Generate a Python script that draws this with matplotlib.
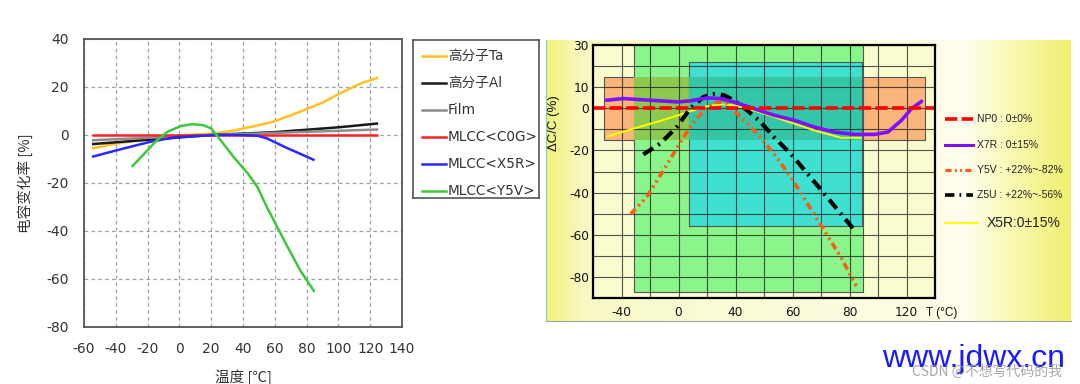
import numpy as np
import matplotlib
matplotlib.use("Agg")
import matplotlib.pyplot as plt
from matplotlib.patches import Rectangle
from matplotlib.lines import Line2D
from matplotlib.colors import LinearSegmentedColormap

plt.rcParams['font.family'] = ['Noto Sans CJK SC', 'DejaVu Sans']
plt.rcParams['axes.unicode_minus'] = False

# ---------------- Left chart data ----------------
left_names = ['高分子Ta', '高分子Al', 'Film', 'MLCC<C0G>', 'MLCC<X5R>', 'MLCC<Y5V>']
left_colors = ['#ffc020', '#1a1a1a', '#8c8c8c', '#ff2020', '#2828ff', '#3cc83c']

ta_t = [-55, -39, -18, 3, 22, 34, 47, 59, 76, 89, 101, 114, 125]
ta_v = [-5.6, -3.5, -1.4, 0.0, 0.6, 1.8, 3.7, 5.5, 9.7, 13.2, 17.3, 21.5, 23.9]
al_t = [-55, 20, 60, 100, 125]
al_v = [-3.8, 0.0, 1.2, 3.2, 4.8]
film_t = [-55, 20, 125]
film_v = [-2.2, 0.0, 2.3]
c0g_t = [-55, 125]
c0g_v = [0.0, 0.0]
x5r_t = [-55, -39, -29, -18, -3.5, 22, 38, 49, 55, 66, 85]
x5r_v = [-9.1, -6.3, -4.6, -2.8, -1.0, 0.0, 0.0, -0.3, -1.4, -4.9, -10.5]
y5v_t = [-30, -22, -14, -7.6, 0.7, 8, 15, 20, 24, 34, 43, 49, 55, 61.5, 68, 76, 85]
y5v_v = [-13.3, -7.7, -2.1, 1.3, 3.7, 4.5, 4.1, 2.7, -0.5, -9.1, -16.0, -21.6, -30.0, -38.3, -46.6, -56.4, -65.4]
left_series = [(ta_t, ta_v), (al_t, al_v), (film_t, film_v), (c0g_t, c0g_v), (x5r_t, x5r_v), (y5v_t, y5v_v)]
left_xticks = [-60, -40, -20, 0, 20, 40, 60, 80, 100, 120, 140]
left_yticks = [-80, -60, -40, -20, 0, 20, 40]

# ---------------- Right chart data ----------------
# x coordinate: position on the chart's own (irregular) temperature axis
r_xtick_pos = [-40, 0, 40, 80, 120, 160]
r_xtick_lab = ['-40', '0', '40', '60', '80', '120']
r_ytick_pos = [30, 10, 0, -20, -40, -60, -80]

box_names = ['X7R', 'Y5V', 'Z5U']
box_tmin = [-52.5, -31.0, 7.5]
box_tmax = [173.0, 129.4, 128.7]
box_top = [15, 30, 22]
box_bot = [-15, -87, -56]

np0_t = [-60, 180]
np0_v = [0, 0]
x7r_t = [-50.6, -38.8, -20, 0, 8.2, 20, 29.4, 38.8, 52.9, 67, 81.2, 95.3, 109.4, 123.5, 137.6, 147, 156.5, 163.5, 170.6]
x7r_v = [3.8, 4.6, 3.8, 3.0, 3.5, 4.9, 4.6, 3.0, -0.2, -3.3, -5.7, -8.9, -11.3, -12.4, -12.4, -11.3, -5.7, -0.2, 3.3]
x5rr_t = [-49.4, -31.8, -15.3, 0, 10.6, 20, 29.4, 38.8, 52.9, 67, 81.2, 95.3, 114.1, 128.2]
x5rr_v = [-13.3, -9.7, -6.5, -3.3, -1.0, 0.95, 1.9, 1.4, -1.0, -4.1, -7.3, -10.5, -14.0, -14.0]
y5vr_t = [-33.6, -22.4, -10.6, 0, 8.2, 17.6, 24.7, 29.4, 34.1, 43.5, 55.3, 67, 78.8, 90.6, 102.4, 114.1, 124.7]
y5vr_v = [-50.2, -42.2, -29.5, -17.6, -8.9, -1.0, 2.5, 3.0, 2.2, -4.1, -12.1, -21.6, -32.7, -45.4, -58.1, -70.8, -84.3]
z5u_t = [-24.7, -12.9, -1.2, 8.2, 17.6, 24.7, 31.8, 38.8, 48.2, 57.6, 67, 78.8, 90.6, 102.4, 114.1, 123.5]
z5u_v = [-21.9, -16.8, -8.9, -0.2, 5.4, 6.7, 6.2, 3.8, -1.0, -6.5, -13.7, -21.6, -31.1, -40.6, -50.2, -57.8]
right_labels = ['NP0 : 0±0%', 'X7R : 0±15%', 'Y5V : +22%~-82%', 'Z5U : +22%~-56%', 'X5R:0±15%']

W, H = 1080, 384
fig = plt.figure(figsize=(W / 100, H / 100), dpi=100)


def fbox(x0, y0, x1, y1):
    return [x0 / W, 1 - y1 / H, (x1 - x0) / W, (y1 - y0) / H]


# ================= LEFT CHART =================
ax = fig.add_axes(fbox(84, 39, 402, 327))
for (t, v), c in zip(left_series, left_colors):
    ax.plot(t, v, color=c, lw=1.8, solid_capstyle='butt', zorder=3)
ax.set_xlim(-60, 140)
ax.set_ylim(-80, 40)
ax.set_xticks(left_xticks)
ax.set_yticks(left_yticks)
ax.grid(True, color='#a0a0a0', lw=0.9, linestyle=(0, (3, 2.5)))
ax.tick_params(length=0, labelsize=10, labelcolor='#333333', pad=11)
for lab in ax.get_xticklabels() + ax.get_yticklabels():
    lab.set_family('DejaVu Sans')
for s in ax.spines.values():
    s.set_color('#555555')
    s.set_linewidth(1.3)
fig.text(25 / W, 1 - 183 / H, '电容变化率 [%]', rotation=90, ha='center', va='center',
         fontsize=10.5, color='#333333')
fig.text(243 / W, 1 - 369 / H, '温度 [℃]', ha='center', va='top', fontsize=10.5, color='#333333')

# left legend box
axl = fig.add_axes(fbox(413, 40, 539, 198))
axl.set_xlim(413, 539)
axl.set_ylim(198, 40)
axl.set_xticks([])
axl.set_yticks([])
for s in axl.spines.values():
    s.set_color('#555555')
    s.set_linewidth(1.2)
leg_y = [56, 83, 110, 137, 164, 191]
for yy, name, c in zip(leg_y, left_names, left_colors):
    axl.add_line(Line2D([422, 446], [yy, yy], color=c, lw=1.8))
    axl.text(448, yy, name, va='center', ha='left', fontsize=9.8, color='#333333',
             family=['DejaVu Sans', 'Noto Sans CJK SC'])

# ================= RIGHT CHART =================
# background gradient panel
axbg = fig.add_axes(fbox(546, 40, 1071, 321))
cmap = LinearSegmentedColormap.from_list('bg', [
    (0.0, '#f2f27e'), (0.07, '#f8f8c2'), (0.2, '#fafad0'), (0.75, '#fdfde6'),
    (0.8, '#fefeee'), (0.88, '#f9f9b8'), (1.0, '#f0f070')])
axbg.imshow(np.linspace(0, 1, 256)[None, :], aspect='auto', cmap=cmap, extent=[0, 1, 0, 1])
axbg.set_xticks([])
axbg.set_yticks([])
for k, s in axbg.spines.items():
    s.set_visible(False)
axbg.spines['bottom'].set_visible(True)
axbg.spines['bottom'].set_color('#a0a0a0')
axbg.spines['left'].set_visible(True)
axbg.spines['left'].set_color('#7fd4c0')

ax2 = fig.add_axes(fbox(593, 45, 935, 298))
ax2.set_facecolor('#fbfbd0')
ax2.set_xlim(-60, 180)
ax2.set_ylim(-90, 30)

box_colors = ['#f9b57a', '#8af58a', '#3fe0d0']
for i in range(3):
    ax2.add_patch(Rectangle((box_tmin[i], box_bot[i]), box_tmax[i] - box_tmin[i],
                            box_top[i] - box_bot[i], facecolor=box_colors[i],
                            edgecolor='#555555', lw=0.8, zorder=1 + i * 0.2, clip_on=False))
    if i == 1:
        # orange ∩ green
        x0 = max(box_tmin[0], box_tmin[1]); x1 = min(box_tmax[0], box_tmax[1])
        y0 = max(box_bot[0], box_bot[1]); y1 = min(box_top[0], box_top[1])
        ax2.add_patch(Rectangle((x0, y0), x1 - x0, y1 - y0, facecolor='#8dc94f',
                                edgecolor='none', zorder=1.3))
    if i == 2:
        x0 = max(box_tmin[0], box_tmin[2]); x1 = min(box_tmax[0], box_tmax[2])
        y0 = max(box_bot[0], box_bot[2]); y1 = min(box_top[0], box_top[2])
        ax2.add_patch(Rectangle((x0, y0), x1 - x0, y1 - y0, facecolor='#35c6a8',
                                edgecolor='none', zorder=1.5))

for gx in np.arange(-60, 181, 20):
    ax2.axvline(gx, color='#1a1a1a', lw=0.8, alpha=0.75, zorder=2)
for gy in np.arange(-90, 31, 10):
    ax2.axhline(gy, color='#1a1a1a', lw=0.8, alpha=0.75, zorder=2)

ax2.plot(x5rr_t, x5rr_v, color='#ffff00', lw=1.4, zorder=3)
ax2.plot(y5vr_t, y5vr_v, color='#ff5a10', lw=2.6, linestyle=(0, (2, 1.1, 0.6, 1.1, 0.6, 1.1)), zorder=3.1)
ax2.plot(z5u_t, z5u_v, color='#000000', lw=3, linestyle=(0, (2.8, 1.4, 0.5, 1.4)), zorder=3.2)
ax2.plot(x7r_t, x7r_v, color='#7f10ff', lw=2.6, zorder=3.3, solid_capstyle='round')
ax2.plot(np0_t, np0_v, color='#ff0000', lw=2.6, linestyle=(0, (3.4, 1.2)), zorder=3.4)

ax2.set_xticks(r_xtick_pos)
ax2.set_xticklabels(r_xtick_lab)
ax2.set_yticks(r_ytick_pos)
ax2.tick_params(length=0, labelsize=8.7, labelcolor='#111111')
ax2.tick_params(axis='x', pad=6)
ax2.tick_params(axis='y', pad=3)
for lab in ax2.get_xticklabels() + ax2.get_yticklabels():
    lab.set_family('DejaVu Sans')
for s in ax2.spines.values():
    s.set_color('#000000')
    s.set_linewidth(1.6)
    s.set_zorder(5)

fig.text(554 / W, 1 - 123 / H, 'ΔC/C (%)', rotation=90, ha='center', va='center',
         fontsize=9.5, color='#111111', family='Liberation Sans')
fig.text(926 / W, 1 - 313 / H, 'T (°C)', ha='left', va='center', fontsize=8.5,
         color='#111111', family='Liberation Sans')

# right legend
axr = fig.add_axes(fbox(940, 100, 1071, 240))
axr.set_xlim(940, 1071)
axr.set_ylim(240, 100)
axr.axis('off')
leg2_y = [119, 145, 170, 195, 223]
leg2_style = [
    dict(color='#ff0000', lw=2.6, linestyle=(0, (3.4, 1.2))),
    dict(color='#7f10ff', lw=2.2),
    dict(color='#ff5a10', lw=2.2, linestyle=(0, (2, 1.1, 0.6, 1.1, 0.6, 1.1))),
    dict(color='#000000', lw=2.6, linestyle=(0, (2.6, 1.4, 0.5, 1.4))),
    dict(color='#ffff00', lw=1.4),
]
for i, (yy, lab, st) in enumerate(zip(leg2_y, right_labels, leg2_style)):
    x1 = 978 if i == 4 else 973
    axr.add_line(Line2D([945, x1], [yy, yy], **st))
    if i == 4:
        axr.text(987, yy, lab, va='center', ha='left', fontsize=10, color='#222222',
                 family='Liberation Sans')
    else:
        axr.text(977, yy, lab, va='center', ha='left', fontsize=7.5, color='#222222',
                 family=['Liberation Sans', 'DejaVu Sans'])

# watermarks
fig.text(882 / W, 1 - 367 / H, 'www.jdwx.cn', ha='left', va='baseline', fontsize=23,
         color='#1a1aff', family='Liberation Sans')
fig.text(912 / W, 1 - 372 / H, 'CSDN @不想写代码的我', ha='left', va='center', fontsize=10,
         color='#999999', alpha=0.85, family=['Noto Sans CJK SC', 'DejaVu Sans'])

fig.savefig('out.png', dpi=100)
